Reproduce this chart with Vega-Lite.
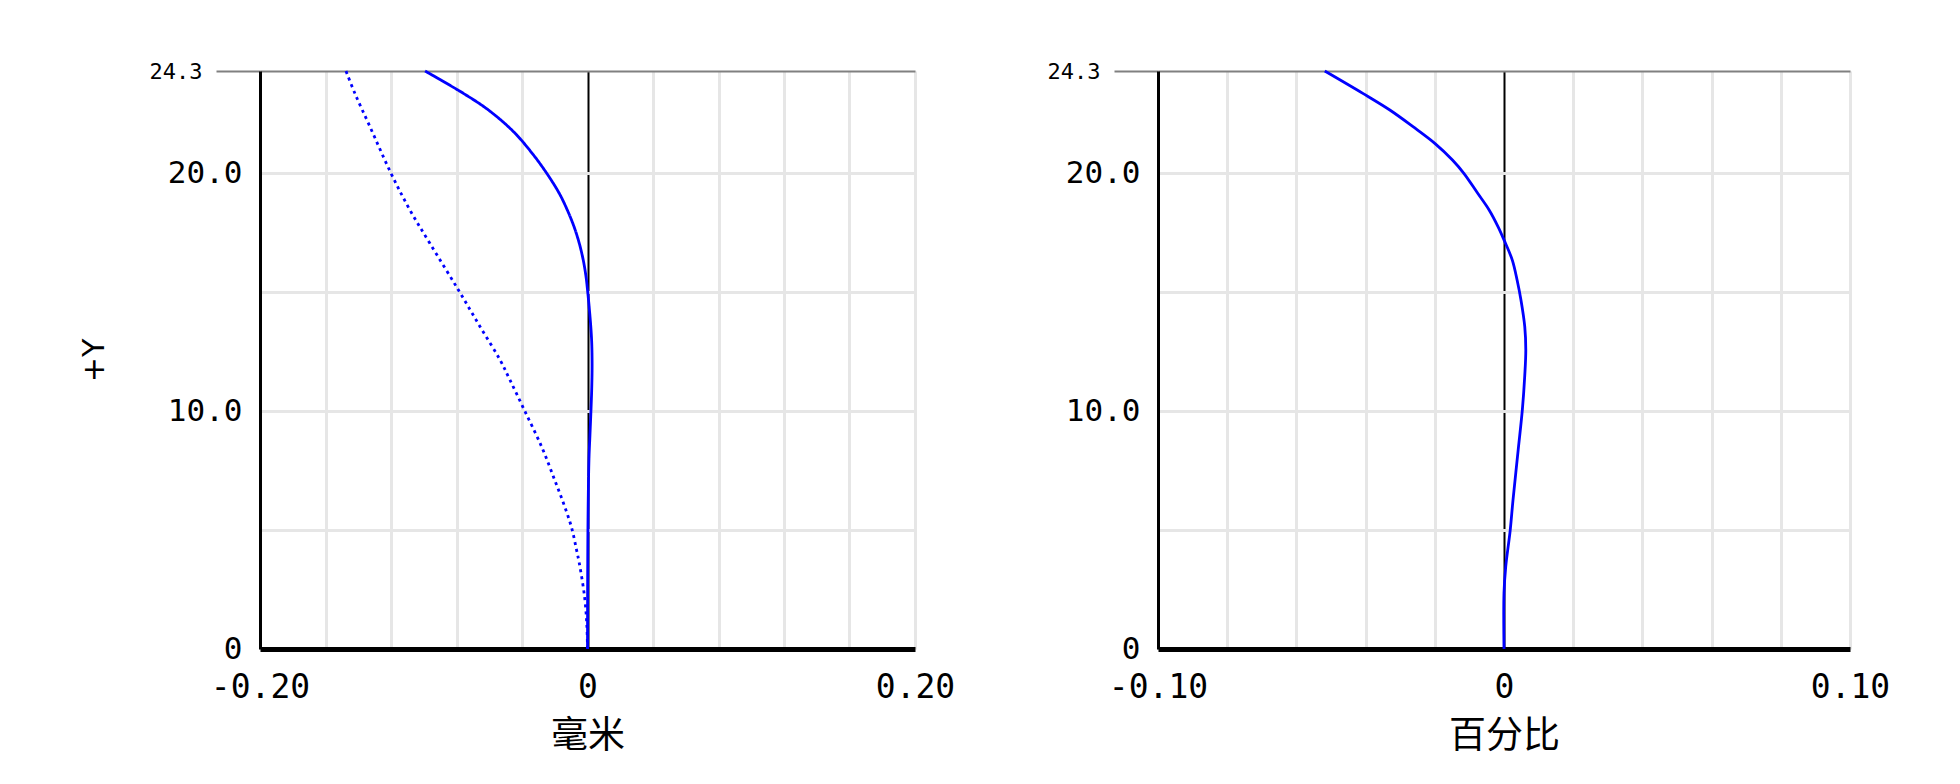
{
  "$schema": "https://vega.github.io/schema/vega-lite/v6.json",
  "background": "white",
  "padding": {"left": 79, "top": 60, "right": 10, "bottom": 10},
  "bounds": "flush",
  "spacing": 243,
  "config": {
    "view": {"stroke": null},
    "axis": {
      "labelFont": "DejaVu Sans Mono",
      "labelColor": "black",
      "titleColor": "black",
      "titleFontWeight": "normal",
      "domainColor": "black"
    }
  },
  "datasets": {
    "field": [
      {"Y": 0, "mm": 0, "series": "T"},
      {"Y": 3, "mm": 0.0001, "series": "T"},
      {"Y": 6, "mm": 0.0004, "series": "T"},
      {"Y": 8, "mm": 0.0009, "series": "T"},
      {"Y": 9, "mm": 0.0015, "series": "T"},
      {"Y": 10, "mm": 0.0021, "series": "T"},
      {"Y": 11, "mm": 0.0026, "series": "T"},
      {"Y": 12, "mm": 0.0028, "series": "T"},
      {"Y": 13, "mm": 0.0025, "series": "T"},
      {"Y": 14, "mm": 0.0015, "series": "T"},
      {"Y": 15.1, "mm": 0, "series": "T"},
      {"Y": 15.65, "mm": -0.0009, "series": "T"},
      {"Y": 16.35, "mm": -0.0026, "series": "T"},
      {"Y": 17.05, "mm": -0.005, "series": "T"},
      {"Y": 17.75, "mm": -0.0082, "series": "T"},
      {"Y": 18.45, "mm": -0.0123, "series": "T"},
      {"Y": 19.15, "mm": -0.0172, "series": "T"},
      {"Y": 20.0, "mm": -0.0249, "series": "T"},
      {"Y": 20.84, "mm": -0.0338, "series": "T"},
      {"Y": 21.75, "mm": -0.0452, "series": "T"},
      {"Y": 22.66, "mm": -0.0605, "series": "T"},
      {"Y": 23.36, "mm": -0.0758, "series": "T"},
      {"Y": 24.3, "mm": -0.0992, "series": "T"},
      {"Y": 0, "mm": 0, "series": "S"},
      {"Y": 1, "mm": -0.0004, "series": "S"},
      {"Y": 2.2, "mm": -0.0018, "series": "S"},
      {"Y": 3.6, "mm": -0.005, "series": "S"},
      {"Y": 4.2, "mm": -0.0068, "series": "S"},
      {"Y": 5.1, "mm": -0.0097, "series": "S"},
      {"Y": 6, "mm": -0.014, "series": "S"},
      {"Y": 7.1, "mm": -0.02, "series": "S"},
      {"Y": 8.5, "mm": -0.028, "series": "S"},
      {"Y": 10.05, "mm": -0.0386, "series": "S"},
      {"Y": 11.3, "mm": -0.0473, "series": "S"},
      {"Y": 12.15, "mm": -0.0534, "series": "S"},
      {"Y": 13.55, "mm": -0.0656, "series": "S"},
      {"Y": 15.1, "mm": -0.0789, "series": "S"},
      {"Y": 17.05, "mm": -0.0962, "series": "S"},
      {"Y": 18.45, "mm": -0.1084, "series": "S"},
      {"Y": 20.0, "mm": -0.12, "series": "S"},
      {"Y": 21.95, "mm": -0.1328, "series": "S"},
      {"Y": 23.35, "mm": -0.142, "series": "S"},
      {"Y": 24.3, "mm": -0.1475, "series": "S"}
    ],
    "distortion": [
      {"Y": 0, "pct": 0},
      {"Y": 2.35, "pct": 0},
      {"Y": 3.46, "pct": 0.0005},
      {"Y": 5.0, "pct": 0.0018},
      {"Y": 6.26, "pct": 0.0026},
      {"Y": 8.37, "pct": 0.0041},
      {"Y": 10.05, "pct": 0.0053},
      {"Y": 11.5, "pct": 0.006},
      {"Y": 12.57, "pct": 0.0063},
      {"Y": 13.55, "pct": 0.006},
      {"Y": 14.67, "pct": 0.0049},
      {"Y": 15.5, "pct": 0.0038},
      {"Y": 16.35, "pct": 0.0024},
      {"Y": 17.2, "pct": 0},
      {"Y": 17.75, "pct": -0.0017},
      {"Y": 18.46, "pct": -0.0043},
      {"Y": 19.16, "pct": -0.0076},
      {"Y": 20.0, "pct": -0.0116},
      {"Y": 20.56, "pct": -0.0149},
      {"Y": 21.26, "pct": -0.02},
      {"Y": 21.96, "pct": -0.0263},
      {"Y": 22.66, "pct": -0.033},
      {"Y": 23.36, "pct": -0.0408},
      {"Y": 24.3, "pct": -0.0518}
    ]
  },
  "hconcat": [
    {
      "width": 655,
      "height": 578,
      "data": {"name": "field"},
      "mark": {"type": "line", "color": "#0000ff", "strokeWidth": 2.8, "interpolate": "catmull-rom"},
      "encoding": {
        "x": {
          "field": "mm",
          "type": "quantitative",
          "scale": {"domain": [-0.2, 0.2], "nice": false, "zero": false},
          "axis": {
            "values": [-0.2, -0.16, -0.12, -0.08, -0.04, 0, 0.04, 0.08, 0.12, 0.16, 0.2],
            "labelExpr": "datum.value == 0 ? '0' : datum.value <= -0.19 ? '-0.20' : datum.value >= 0.19 ? '0.20' : ''",
            "labelFontSize": 33,
            "labelPadding": 22,
            "ticks": false,
            "tickSize": 0,
            "labelFlush": false,
            "labelOverlap": false,
            "domainWidth": 5,
            "grid": true,
            "gridColor": {"condition": {"test": "datum.value == 0", "value": "black"}, "value": "#e6e6e6"},
            "gridWidth": {"condition": {"test": "datum.value == 0", "value": 2}, "value": 3},
            "title": "毫米",
            "titleFont": "Noto Sans CJK SC",
            "titleFontSize": 37,
            "titlePadding": 14
          }
        },
        "y": {
          "field": "Y",
          "type": "quantitative",
          "scale": {"domain": [0, 24.3], "nice": false, "zero": false},
          "axis": {
            "values": [0, 5, 10, 15, 20, 24.3],
            "labelExpr": "datum.value == 0 ? '0' : datum.value == 10 ? '10.0' : datum.value == 20 ? '20.0' : datum.value == 24.3 ? '24.3' : ''",
            "labelFontSize": {"condition": {"test": "datum.value == 24.3", "value": 22}, "value": 31},
            "labelPadding": {"condition": {"test": "datum.value == 24.3", "value": 14}, "value": 18},
            "tickSize": {"condition": {"test": "datum.value == 24.3", "value": 44}, "value": 0},
            "tickColor": "#808080",
            "tickWidth": 2,
            "labelBaseline": "middle",
            "labelOverlap": false,
            "domainWidth": 3,
            "grid": true,
            "gridColor": {"condition": [{"test": "datum.value == 24.3", "value": "#808080"}, {"test": "datum.value == 0", "value": "transparent"}], "value": "#e6e6e6"},
            "gridWidth": {"condition": {"test": "datum.value == 24.3", "value": 2}, "value": 3},
            "title": "+Y",
            "titleFont": "DejaVu Sans",
            "titleFontSize": 30,
            "titleX": -166,
            "titleY": 289,
            "titleBaseline": "middle"
          }
        },
        "order": {"field": "Y", "type": "quantitative"},
        "strokeDash": {
          "field": "series",
          "type": "nominal",
          "scale": {"domain": ["T", "S"], "range": [[1, 0], [3, 4]]},
          "legend": null
        }
      }
    },
    {
      "width": 692,
      "height": 578,
      "data": {"name": "distortion"},
      "mark": {"type": "line", "color": "#0000ff", "strokeWidth": 2.8, "interpolate": "catmull-rom"},
      "encoding": {
        "x": {
          "field": "pct",
          "type": "quantitative",
          "scale": {"domain": [-0.1, 0.1], "nice": false, "zero": false},
          "axis": {
            "values": [-0.1, -0.08, -0.06, -0.04, -0.02, 0, 0.02, 0.04, 0.06, 0.08, 0.1],
            "labelExpr": "datum.value == 0 ? '0' : datum.value <= -0.09 ? '-0.10' : datum.value >= 0.09 ? '0.10' : ''",
            "labelFontSize": 33,
            "labelPadding": 22,
            "ticks": false,
            "tickSize": 0,
            "labelFlush": false,
            "labelOverlap": false,
            "domainWidth": 5,
            "grid": true,
            "gridColor": {"condition": {"test": "datum.value == 0", "value": "black"}, "value": "#e6e6e6"},
            "gridWidth": {"condition": {"test": "datum.value == 0", "value": 2}, "value": 3},
            "title": "百分比",
            "titleFont": "Noto Sans CJK SC",
            "titleFontSize": 37,
            "titlePadding": 14
          }
        },
        "y": {
          "field": "Y",
          "type": "quantitative",
          "scale": {"domain": [0, 24.3], "nice": false, "zero": false},
          "axis": {
            "values": [0, 5, 10, 15, 20, 24.3],
            "labelExpr": "datum.value == 0 ? '0' : datum.value == 10 ? '10.0' : datum.value == 20 ? '20.0' : datum.value == 24.3 ? '24.3' : ''",
            "labelFontSize": {"condition": {"test": "datum.value == 24.3", "value": 22}, "value": 31},
            "labelPadding": {"condition": {"test": "datum.value == 24.3", "value": 14}, "value": 18},
            "tickSize": {"condition": {"test": "datum.value == 24.3", "value": 44}, "value": 0},
            "tickColor": "#808080",
            "tickWidth": 2,
            "labelBaseline": "middle",
            "labelOverlap": false,
            "domainWidth": 3,
            "grid": true,
            "gridColor": {"condition": [{"test": "datum.value == 24.3", "value": "#808080"}, {"test": "datum.value == 0", "value": "transparent"}], "value": "#e6e6e6"},
            "gridWidth": {"condition": {"test": "datum.value == 24.3", "value": 2}, "value": 3},
            "title": null
          }
        },
        "order": {"field": "Y", "type": "quantitative"}
      }
    }
  ]
}
